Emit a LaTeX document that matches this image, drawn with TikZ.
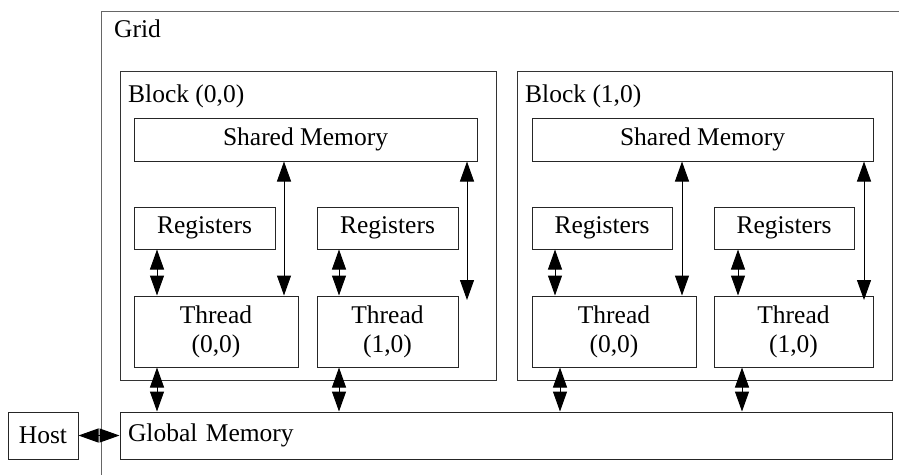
\documentclass[tikz,border=0pt]{standalone}
\usepackage{fontspec}
\setmainfont{Liberation Serif}
\usetikzlibrary{arrows.meta,positioning}
\tikzset{
  bigtip/.tip={Triangle[length=20pt,width=14pt]}
}
\begin{document}
\begin{tikzpicture}[x=1pt,y=-1pt,
  txt/.style={font=\fontsize{25.5}{29}\selectfont, inner sep=0pt},
  box/.style={draw=black!85, line width=1pt, rectangle, inner sep=0pt, font=\fontsize{25.5}{29}\selectfont, align=center},
  frame/.style={draw=black!80, line width=1pt},
  arr/.style={line width=1pt, arrows={bigtip-bigtip}}
]
\useasboundingbox (0,0) rectangle (899,475);
\fill[white] (0,0) rectangle (899,475);
% Grid
\draw[draw=black!60, line width=1pt] (899,11) -- (101,11) -- (101,475);
\node[txt, anchor=base west] (gridlbl) at (114,37) {Grid};
% Blocks
\draw[frame] (120,71) rectangle (496,380);
\draw[frame] (517,71) rectangle (892,380);
\node[txt, anchor=base west] (b0lbl) at (128,102) {Block (0,0)};
\node[txt, anchor=base west] (b1lbl) at (525,102) {Block (1,0)};
% Block 0 contents
\node[box, minimum width=343, minimum height=43] (sm0) at (305.5,139.5) {Shared Memory};
\node[box, minimum width=141, minimum height=42] (r00) at (204.5,228) {Registers};
\node[box, minimum width=141, minimum height=42] (r01) at (387.5,228) {Registers};
\node[box, minimum width=164, minimum height=71] (t00) at (216,331.5) {Thread\\(0,0)};
\node[box, minimum width=141, minimum height=71] (t01) at (387.5,331.5) {Thread\\(1,0)};
% Block 1 contents
\node[box, minimum width=341, minimum height=43] (sm1) at (702.5,139.5) {Shared Memory};
\node[box, minimum width=140, minimum height=42] (r10) at (602,228) {Registers};
\node[box, minimum width=140, minimum height=42] (r11) at (784,228) {Registers};
\node[box, minimum width=164, minimum height=71] (t10) at (614,331.5) {Thread\\(0,0)};
\node[box, minimum width=159, minimum height=71] (t11) at (793.5,331.5) {Thread\\(1,0)};
% Host and global memory
\node[box, minimum width=70, minimum height=47] (host) at (43,435.5) {Host};
\node[box, minimum width=772, minimum height=47, text width=756, align=left, inner xsep=8pt] (gm) at (506,435.5) {Global Memory};
% Arrows shared memory <-> thread
\coordinate (xa) at (284,0);
\coordinate (xb) at (467,300);
\coordinate (xc) at (682,0);
\coordinate (xd) at (864,300);
\draw[arr] (sm0.south -| xa) -- (t00.north -| xa);
\draw[arr] (sm0.south -| xb) -- (xb);
\draw[arr] (sm1.south -| xc) -- (t10.north -| xc);
\draw[arr] (sm1.south -| xd) -- (xd);
% Registers <-> thread
\coordinate (xe) at (157,0);
\coordinate (xf) at (339,0);
\coordinate (xg) at (555,0);
\coordinate (xh) at (738,0);
\draw[arr] (r00.south -| xe) -- (t00.north -| xe);
\draw[arr] (r01.south -| xf) -- (t01.north -| xf);
\draw[arr] (r10.south -| xg) -- (t10.north -| xg);
\draw[arr] (r11.south -| xh) -- (t11.north -| xh);
% Thread <-> global memory
\coordinate (xi) at (560,0);
\coordinate (xj) at (742,0);
\draw[arr] (t00.south -| xe) -- (gm.north -| xe);
\draw[arr] (t01.south -| xf) -- (gm.north -| xf);
\draw[arr] (t10.south -| xi) -- (gm.north -| xi);
\draw[arr] (t11.south -| xj) -- (gm.north -| xj);
% Host <-> global memory
\draw[arr] (host.east) -- (gm.west);
\end{tikzpicture}
\end{document}
